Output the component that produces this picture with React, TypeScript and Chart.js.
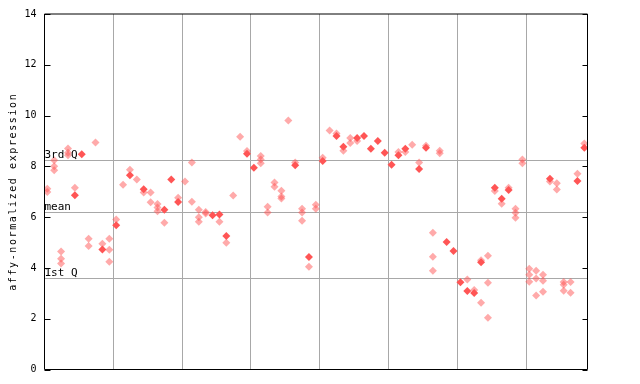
import { useEffect, useRef } from 'react';
import Chart from 'chart.js/auto';

// column index -> values (light/dithered markers)
const lightValues: number[][] = [
  [7.12, 6.99], [8.24, 8.0, 7.85], [4.65, 4.36, 4.17], [8.7, 8.54, 8.44], [7.16], [], [5.15, 4.86], [8.94], [4.95], [5.15, 4.72, 4.24],
  [5.91], [7.28], [7.87], [7.48], [6.97], [6.97, 6.59], [6.52, 6.38, 6.23], [5.78], [], [6.76],
  [7.4], [8.15, 6.61], [6.29, 6.0, 5.82], [6.2, 6.14], [], [5.82], [4.99], [6.85], [9.17], [8.6],
  [], [8.41, 8.27, 8.12], [6.41, 6.18], [7.36, 7.2], [7.04, 6.81, 6.73], [9.81], [8.15], [6.33, 6.18, 5.86], [4.05], [6.49, 6.33],
  [8.34], [9.41], [9.29], [8.61], [9.12, 8.92], [9.0], [], [], [], [],
  [], [8.57], [8.57], [8.85], [8.15], [8.81], [5.39, 4.44, 3.89], [8.61, 8.52], [], [],
  [], [3.54], [3.13], [4.3, 2.63], [4.48, 3.42, 2.04], [7.03], [6.53], [7.16], [6.33, 6.17, 5.98], [8.27, 8.12],
  [3.97, 3.73, 3.46], [3.89, 3.58, 2.91], [3.73, 3.5, 3.06], [7.4], [7.33, 7.09], [3.45, 3.34, 3.1], [3.45, 3.02], [7.71], [8.9],
];

// column index -> solid marker value (null = none)
const solidValues: (number | null)[] = [
  null, null, null, null, 6.86, 8.48, null, null, 4.73, null,
  5.68, null, 7.65, null, 7.1, null, null, 6.29, 7.48, 6.6,
  null, null, null, null, 6.07, 6.1, 5.26, null, null, 8.5,
  7.95, null, null, null, null, null, 8.04, null, 4.43, null,
  8.21, null, 9.2, 8.77, null, 9.12, 9.2, 8.69, 9.0, 8.54,
  8.06, 8.44, 8.69, null, 7.9, 8.73, null, null, 5.02, 4.67,
  3.44, 3.09, 3.01, 4.22, null, 7.16, 6.72, 7.07, null, null,
  null, null, null, 7.51, null, null, null, 7.42, 8.73,
];

const yTickValues = [0, 2, 4, 6, 8, 10, 12, 14];
const groupBoundaries = [9.5, 19.5, 29.5, 39.5, 49.5, 59.5, 69.5];
const quantileLabels = ['3rd Q', 'mean', '1st Q'];
const quantileValues = [8.24, 6.22, 3.62];
const yTitle = 'affy-normalized expression';

const RED = 'rgb(255,85,85)';
const RED_LIGHT = 'rgba(255,85,85,0.5)';
const GRID = '#a8a8a8';

export default function App() {
  const ref = useRef<HTMLCanvasElement | null>(null);
  useEffect(() => {
    if (!ref.current) return;
    const lightData: { x: number; y: number }[] = [];
    lightValues.forEach((vals, i) => vals.forEach((v) => lightData.push({ x: i, y: v })));
    const solidData: { x: number; y: number }[] = [];
    solidValues.forEach((v, i) => { if (v !== null) solidData.push({ x: i, y: v }); });

    const framePlugin = {
      id: 'framePlugin',
      beforeDatasetsDraw(chart: any) {
        const { ctx, chartArea: a, scales } = chart;
        ctx.save();
        ctx.strokeStyle = GRID;
        ctx.lineWidth = 1;
        ctx.beginPath();
        groupBoundaries.forEach((b) => {
          const x = Math.round(scales.x.getPixelForValue(b)) + 0.5;
          ctx.moveTo(x, a.top);
          ctx.lineTo(x, a.bottom);
        });
        quantileValues.forEach((q) => {
          const y = Math.round(scales.y.getPixelForValue(q)) + 0.5;
          ctx.moveTo(a.left, y);
          ctx.lineTo(a.right, y);
        });
        ctx.stroke();
        ctx.restore();
      },
      afterDatasetsDraw(chart: any) {
        const { ctx, chartArea: a, scales } = chart;
        ctx.save();
        ctx.strokeStyle = '#000';
        ctx.lineWidth = 1;
        ctx.beginPath();
        ctx.rect(a.left, a.top, a.right - a.left, a.bottom - a.top);
        yTickValues.forEach((t) => {
          const y = Math.round(scales.y.getPixelForValue(t)) + 0.5;
          ctx.moveTo(a.left, y);
          ctx.lineTo(a.left + 6, y);
          ctx.moveTo(a.right, y);
          ctx.lineTo(a.right - 5, y);
        });
        ctx.stroke();
        ctx.fillStyle = '#000';
        ctx.font = '11px "DejaVu Sans Mono", monospace';
        ctx.textAlign = 'left';
        ctx.textBaseline = 'bottom';
        quantileLabels.forEach((lab, i) => {
          const y = Math.round(scales.y.getPixelForValue(quantileValues[i]));
          ctx.fillText(lab, a.left, y + 1);
        });
        ctx.font = '10px "DejaVu Sans Mono", monospace';
        (ctx as any).letterSpacing = '1.6px';
        ctx.translate(13, (a.top + a.bottom) / 2);
        ctx.rotate(-Math.PI / 2);
        ctx.textAlign = 'center';
        ctx.textBaseline = 'middle';
        ctx.fillText(yTitle, 0, 0);
        ctx.restore();
      },
    };

    const chart = new Chart(ref.current, {
      type: 'scatter',
      data: {
        datasets: [
          {
            data: lightData,
            pointStyle: 'rectRot',
            pointRadius: 4,
            pointBackgroundColor: RED_LIGHT,
            pointBorderWidth: 0,
            showLine: false,
          },
          {
            data: solidData,
            pointStyle: 'rectRot',
            pointRadius: 4,
            pointBackgroundColor: RED,
            pointBorderWidth: 0,
            showLine: false,
          },
        ],
      },
      options: {
        responsive: false,
        animation: false,
        layout: { padding: { top: 13.5, right: 52.5, left: 0, bottom: 0 } },
        plugins: { legend: { display: false }, tooltip: { enabled: false } },
        scales: {
          x: {
            type: 'linear',
            min: -0.41,
            max: 78.46,
            ticks: { display: false },
            grid: { display: false },
            border: { display: false },
            afterFit: (s: any) => { s.height = 14.5; },
          },
          y: {
            type: 'linear',
            min: 0,
            max: 14,
            afterBuildTicks: (s: any) => { s.ticks = yTickValues.map((v) => ({ value: v })); },
            ticks: {
              color: '#000',
              padding: 8,
              font: { family: '"DejaVu Sans Mono", monospace', size: 10 },
            },
            grid: { display: false, drawTicks: false },
            border: { display: false },
            afterFit: (s: any) => { s.width = 44.5; },
          },
        },
      },
      plugins: [framePlugin],
    });
    return () => chart.destroy();
  }, []);
  return (
    <canvas
      ref={ref}
      width={640}
      height={384}
      style={{ position: 'absolute', left: 0, top: 0, width: 640, height: 384, display: 'block' }}
    />
  );
}
